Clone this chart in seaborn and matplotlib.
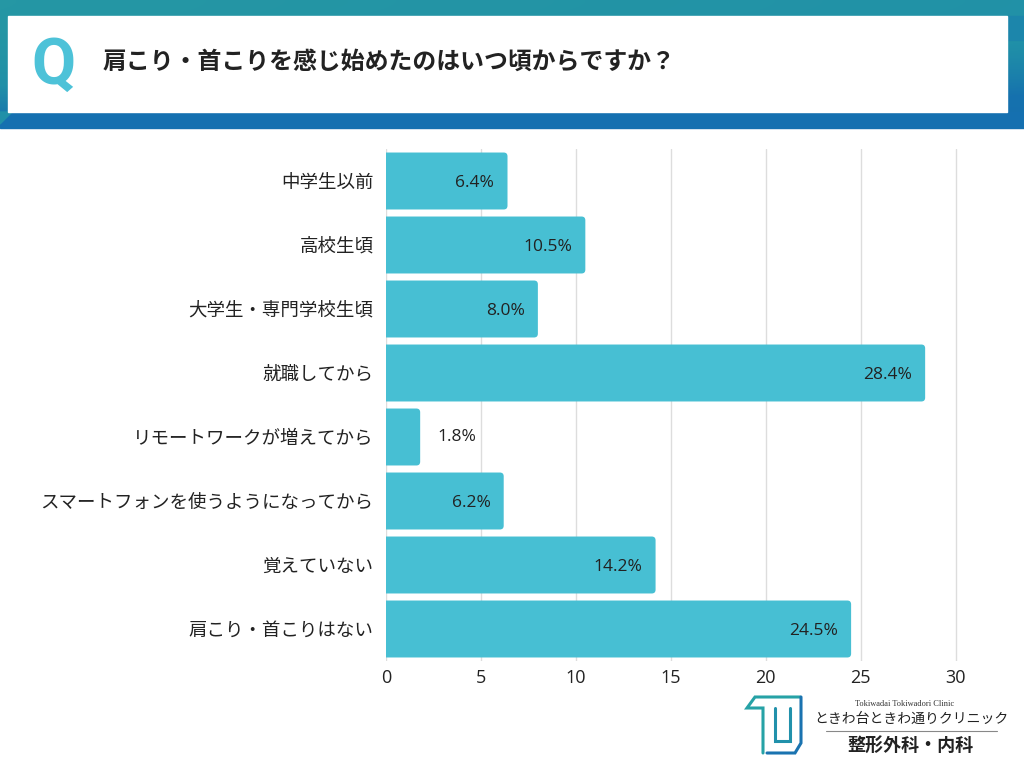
import numpy as np
import pandas as pd
import matplotlib.pyplot as plt
import seaborn as sns
from matplotlib.patches import Rectangle, Polygon, FancyBboxPatch
from matplotlib.colors import LinearSegmentedColormap

# データ
categories = ['中学生以前', '高校生頃', '大学生・専門学校生頃', '就職してから',
              'リモートワークが増えてから', 'スマートフォンを使うようになってから',
              '覚えていない', '肩こり・首こりはない']
values = [6.4, 10.5, 8.0, 28.4, 1.8, 6.2, 14.2, 24.5]
title = '肩こり・首こりを感じ始めたのはいつ頃からですか？'
xticks = [0, 5, 10, 15, 20, 25, 30]

df = pd.DataFrame({'cat': categories, 'val': values})

sns.set_style('white')
plt.rcParams['font.family'] = ['Noto Sans CJK JP', 'DejaVu Sans']

fig = plt.figure(figsize=(10.24, 7.68), dpi=100)

# ヘッダー
hdr = fig.add_axes([0, 0, 1, 1], zorder=0)
hdr.set_xlim(0, 1024)
hdr.set_ylim(768, 0)
hdr.axis('off')
yy, xx = np.mgrid[0:128, 0:1024]
t = 0.75 * (yy / 128.0) ** 2 + 0.25 * (xx / 1024.0)
cmap = LinearSegmentedColormap.from_list('hd', ['#2597a4', '#2090a8', '#1672ae', '#146fb0'])
hdr.imshow(t, extent=(0, 1024, 128, 0), cmap=cmap, aspect='auto', zorder=0)
hdr.add_patch(Rectangle((0, 112), 1024, 16, color='#1570b0', zorder=1))
hdr.add_patch(Polygon([[0, 112], [12, 112], [0, 124]], closed=True, color='#2090a8', zorder=1))
hdr.add_patch(Polygon([[1024, 16], [1024, 40], [1008, 40], [1008, 16]], closed=True,
                      color='#1c86ab', zorder=1))
hdr.add_patch(Rectangle((8, 16), 999, 96, color='white', zorder=2))
hdr.text(53, 66, 'Q', fontsize=46, fontweight='bold', color='#4dc2d8',
         ha='center', va='center', family='Roboto', zorder=3)
hdr.text(103, 62, title, fontsize=17.2, fontweight='bold', color='#222222',
         ha='left', va='center', zorder=3)

# ロゴ
hdr.plot([763, 763, 747, 755, 800], [753, 708, 708, 697, 697], color='#26a2a6', lw=2.2,
         solid_joinstyle='miter')
hdr.plot([767, 795, 801, 801], [753, 753, 743, 697], color='#1a73b0', lw=2.2,
         solid_joinstyle='miter')
hdr.plot([775, 775, 790, 790], [708, 741, 741, 708], color='#2191ab', lw=2.2,
         solid_joinstyle='miter')
hdr.text(905, 704, 'Tokiwadai Tokiwadori Clinic', fontsize=6, family='Liberation Serif',
         color='#333333', ha='center', va='center')
hdr.text(911, 719, 'ときわ台ときわ通りクリニック', fontsize=10, color='#222222',
         ha='center', va='center')
hdr.plot([826, 997], [731, 731], color='#888888', lw=0.8)
hdr.text(911, 745, '整形外科・内科', fontsize=13, fontweight='bold', color='#222222',
         ha='center', va='center')

# 棒グラフ
ax = fig.add_axes([386 / 1024, 1 - 661 / 768, 598 / 1024, 512 / 768], zorder=2)
ax.patch.set_alpha(0)
sns.barplot(data=df, x='val', y='cat', orient='h', color='#47bfd3', width=0.89,
            saturation=1, ax=ax, zorder=2)

# 右端を角丸に
for p in list(ax.patches):
    x0, y0, w, h = p.get_x(), p.get_y(), p.get_width(), p.get_height()
    p.remove()
    ax.add_patch(FancyBboxPatch((x0 - 0.5, y0), w + 0.5, h,
                                boxstyle='round,pad=0,rounding_size=0.2',
                                mutation_aspect=19 / 64, color='#47bfd3', lw=0, zorder=2))

ax.set_xlim(0, 31.5)
ax.set_xticks(xticks)
ax.xaxis.grid(True, color='#dddddd', lw=1, zorder=0)
ax.set_axisbelow(True)
for s in ax.spines.values():
    s.set_visible(False)
ax.set_xlabel('')
ax.set_ylabel('')
ax.tick_params(axis='y', length=0, pad=9, labelsize=13.3, labelcolor='#222222')
ax.tick_params(axis='x', length=0, pad=6, labelsize=13, labelcolor='#222222')
for lab in ax.get_xticklabels():
    lab.set_family(['Open Sans', 'DejaVu Sans'])

for i, v in enumerate(values):
    lbl = f'{v:.1f}%'
    if v < 4:
        ax.text(v + 0.9, i, lbl, ha='left', va='center', fontsize=12.5, color='#222222',
                family=['Open Sans', 'DejaVu Sans'])
    else:
        ax.text(v - 0.7, i + 0.03, lbl, ha='right', va='center', fontsize=12.5, color='#222222',
                family=['Open Sans', 'DejaVu Sans'])

plt.savefig('out.png', dpi=100)
